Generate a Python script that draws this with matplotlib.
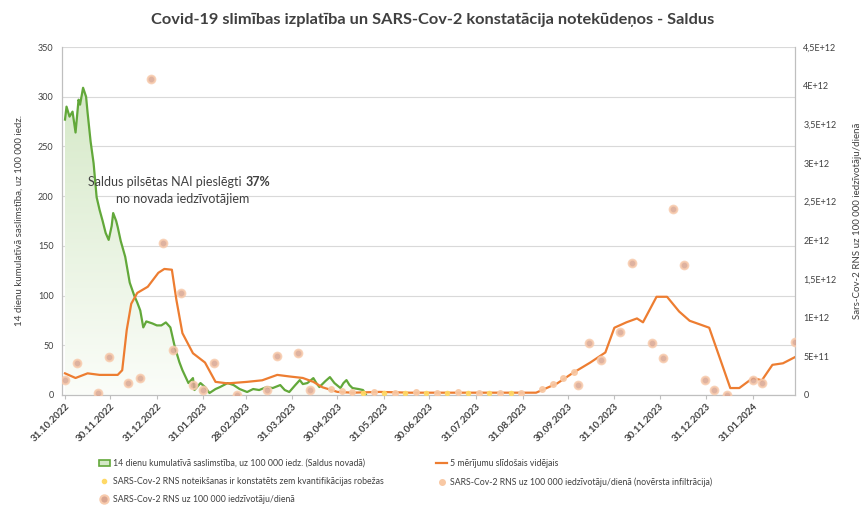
import numpy as np
import pandas as pd
import matplotlib
matplotlib.use("Agg")
import matplotlib.pyplot as plt
import matplotlib.dates as mdates
import matplotlib.ticker as mticker
from matplotlib.lines import Line2D
from matplotlib.patches import Patch, Polygon

plt.rcParams["font.family"] = ["Lato", "DejaVu Sans"]

# ── Data ────────────────────────────────────────────────────────────────────
# 14-day cumulative incidence per 100 000 (Saldus municipality)
inc_dates = pd.to_datetime([
    "2022-10-31", "2022-11-01", "2022-11-03", "2022-11-05", "2022-11-07", "2022-11-09",
    "2022-11-10", "2022-11-12", "2022-11-14", "2022-11-15", "2022-11-17", "2022-11-19",
    "2022-11-21", "2022-11-23", "2022-11-25", "2022-11-27", "2022-11-29", "2022-12-01",
    "2022-12-02", "2022-12-04", "2022-12-05", "2022-12-07", "2022-12-10", "2022-12-13",
    "2022-12-16", "2022-12-18", "2022-12-20", "2022-12-22", "2022-12-24", "2022-12-28",
    "2022-12-31", "2023-01-03", "2023-01-06", "2023-01-09", "2023-01-12", "2023-01-15",
    "2023-01-17", "2023-01-21", "2023-01-24", "2023-01-25", "2023-01-29", "2023-02-01",
    "2023-02-04", "2023-02-08", "2023-02-11", "2023-02-16", "2023-02-20", "2023-02-24",
    "2023-03-01", "2023-03-05", "2023-03-09", "2023-03-14", "2023-03-18", "2023-03-23",
    "2023-03-26", "2023-03-29", "2023-04-02", "2023-04-05", "2023-04-07", "2023-04-10",
    "2023-04-14", "2023-04-16", "2023-04-18", "2023-04-22", "2023-04-25", "2023-04-28",
    "2023-05-02", "2023-05-04", "2023-05-06", "2023-05-08", "2023-05-10", "2023-05-14",
    "2023-05-17", "2023-05-19",
])
inc_values = [
    277, 290, 280, 285, 264, 297,
    292, 309, 300, 284, 255, 233,
    199, 186, 175, 163, 156, 170,
    183, 175, 169, 155, 139, 113,
    100, 93, 85, 68, 74, 72,
    70, 70, 73, 68, 48, 33,
    25, 12, 17, 5, 12, 8,
    2, 6, 8, 12, 10, 6,
    3, 6, 5, 8, 7, 10,
    5, 3, 10, 15, 11, 12,
    17, 12, 8, 14, 18, 12,
    7, 12, 15, 10, 7, 6,
    5, 0,
]

# 5-measurement moving average of RNS per 100 000 / day (E+12)
ma_dates = pd.to_datetime([
    "2022-10-31", "2022-11-07", "2022-11-15", "2022-11-23", "2022-12-05", "2022-12-08",
    "2022-12-11", "2022-12-14", "2022-12-18", "2022-12-25", "2023-01-01", "2023-01-05",
    "2023-01-10", "2023-01-13", "2023-01-17", "2023-01-24", "2023-02-01", "2023-02-08",
    "2023-02-16", "2023-03-01", "2023-03-11", "2023-03-21", "2023-03-29", "2023-04-07",
    "2023-04-14", "2023-04-20", "2023-04-30", "2023-05-10", "2023-05-28", "2023-06-17",
    "2023-07-07", "2023-07-27", "2023-08-16", "2023-09-09", "2023-09-23", "2023-10-03",
    "2023-10-15", "2023-10-25", "2023-10-31", "2023-11-08", "2023-11-15", "2023-11-19",
    "2023-11-28", "2023-12-05", "2023-12-13", "2023-12-20", "2024-01-02", "2024-01-16",
    "2024-01-22", "2024-01-31", "2024-02-06", "2024-02-13", "2024-02-20", "2024-02-28",
])
ma_values = [
    0.28, 0.22, 0.28, 0.26, 0.26, 0.32,
    0.84, 1.18, 1.32, 1.40, 1.58, 1.63,
    1.62, 1.23, 0.80, 0.54, 0.42, 0.17,
    0.15, 0.17, 0.19, 0.26, 0.24, 0.22,
    0.17, 0.10, 0.04, 0.03, 0.04, 0.03,
    0.03, 0.03, 0.03, 0.03, 0.15, 0.28,
    0.42, 0.55, 0.87, 0.94, 0.99, 0.94,
    1.27, 1.27, 1.08, 0.96, 0.87, 0.09,
    0.09, 0.22, 0.19, 0.39, 0.41, 0.49,
]

# SARS-Cov-2 RNS per 100 000 / day (E+12)
rns_dates = pd.to_datetime([
    "2022-10-31", "2022-11-08", "2022-11-22", "2022-11-29", "2022-12-12", "2022-12-20",
    "2022-12-27", "2023-01-04", "2023-01-11", "2023-01-16", "2023-01-24", "2023-01-31",
    "2023-02-07", "2023-02-22", "2023-03-14", "2023-03-21", "2023-04-04", "2023-04-12",
    "2023-10-07", "2023-10-14", "2023-10-22", "2023-11-04", "2023-11-12", "2023-11-25",
    "2023-12-02", "2023-12-09", "2023-12-16", "2023-12-30", "2024-01-05", "2024-01-14",
    "2024-01-31", "2024-02-06", "2024-02-28",
])
rns_values = [
    0.19, 0.41, 0.03, 0.49, 0.15, 0.22,
    4.08, 1.97, 0.58, 1.32, 0.13, 0.06,
    0.42, 0.00, 0.06, 0.51, 0.54, 0.06,
    0.13, 0.67, 0.45, 0.81, 1.71, 0.67,
    0.48, 2.40, 1.68, 0.19, 0.06, 0.00,
    0.19, 0.15, 0.68,
]

# RNS normalised for infiltration (E+12)
norm_dates = pd.to_datetime([
    "2023-04-26", "2023-05-03", "2023-05-10", "2023-05-24", "2023-06-07", "2023-06-21",
    "2023-07-05", "2023-07-19", "2023-08-02", "2023-08-16", "2023-08-30", "2023-09-13",
    "2023-09-20", "2023-09-27", "2023-10-04",
])
norm_values = [
    0.08, 0.05, 0.04, 0.04, 0.03, 0.04,
    0.03, 0.04, 0.03, 0.03, 0.03, 0.08,
    0.14, 0.22, 0.30,
]

# RNS detected below the quantification limit (E+12)
loq_dates = pd.to_datetime([
    "2023-05-17", "2023-05-31", "2023-06-14", "2023-06-28", "2023-07-12",
    "2023-07-26", "2023-08-09", "2023-08-23",
])
loq_values = [0.02, 0.02, 0.02, 0.02, 0.02, 0.02, 0.02, 0.02]

x_ticks = pd.to_datetime([
    "2022-10-31", "2022-11-30", "2022-12-31", "2023-01-31", "2023-02-28", "2023-03-31",
    "2023-04-30", "2023-05-31", "2023-06-30", "2023-07-31", "2023-08-31", "2023-09-30",
    "2023-10-31", "2023-11-30", "2023-12-31", "2024-01-31",
])
right_labels = ["0", "5E+11", "1E+12", "1,5E+12", "2E+12", "2,5E+12",
                "3E+12", "3,5E+12", "4E+12", "4,5E+12"]

# ── Colours ─────────────────────────────────────────────────────────────────
green = "#62A83A"
orange = "#ED7D31"
dot_face = "#D9A590"
dot_edge = "#F8CBAD"
light_orange = "#F8C8A4"
yellow = "#FFD966"
text_col = "#404040"
grid_col = "#D9D9D9"

# ── Plot ────────────────────────────────────────────────────────────────────
fig = plt.figure(figsize=(8.65, 5.08), dpi=100)
ax = fig.add_axes([62 / 865, 113 / 508, 733 / 865, 348 / 508])
ax2 = ax.twinx()

x0 = pd.Timestamp("2022-10-29")
x1 = pd.Timestamp("2024-02-28")
ax.set_xlim(x0, x1)
ax.set_ylim(0, 350)
ax2.set_ylim(0, 4.5)

# green area with vertical gradient
xn = mdates.date2num(inc_dates)
ax.plot(inc_dates, inc_values, color=green, lw=1.6, zorder=3)
poly_xy = np.column_stack([np.r_[xn[0], xn, xn[-1]], np.r_[0, inc_values, 0]])
poly = Polygon(poly_xy, closed=True, facecolor="none", edgecolor="none",
               transform=ax.transData)
ax.add_patch(poly)
grad = np.linspace(0, 1, 256).reshape(-1, 1)
cmap = matplotlib.colors.LinearSegmentedColormap.from_list(
    "g", ["#FBFDF9", "#D4E8C6"])
img = ax.imshow(grad, extent=[xn[0], xn[-1], 0, 320], origin="lower",
                cmap=cmap, aspect="auto", zorder=2)
img.set_clip_path(poly)
ax.set_xlim(x0, x1)

ax.yaxis.set_major_locator(mticker.MultipleLocator(50))
ax.grid(axis="y", color=grid_col, lw=0.8)
ax.set_axisbelow(True)

# right axis series
ax2.plot(ma_dates, ma_values, color=orange, lw=1.6, zorder=3)
ax2.plot(loq_dates, loq_values, "o", ms=3, color=yellow, alpha=0.9, zorder=4)
ax2.plot(norm_dates, norm_values, "o", ms=4, color=light_orange, alpha=0.9, zorder=4)
ax2.plot(rns_dates, rns_values, "o", ms=5.5, mfc=dot_face, mec=dot_edge, mew=1.5,
         alpha=0.85, zorder=5)
ax2.set_yticks(np.arange(0, 4.51, 0.5))
ax2.set_yticklabels(right_labels)

# axes styling
ax.set_xticks(x_ticks)
ax.set_xticklabels([d.strftime("%d.%m.%Y") for d in x_ticks], rotation=45,
                   ha="right", rotation_mode="anchor", fontsize=7,
                   color=text_col, fontweight="bold")
for a in (ax, ax2):
    for s in a.spines.values():
        s.set_color("#BFBFBF")
    a.spines["top"].set_visible(False)
    a.tick_params(axis="y", length=0, labelsize=6.5, labelcolor=text_col, pad=6)
ax.tick_params(axis="x", length=3, color="#BFBFBF", pad=2)

ax.set_ylabel("14 dienu kumulatīvā saslimstība, uz 100 000 iedz.", fontsize=7,
              color=text_col, labelpad=10)
ax2.set_ylabel("Sars-Cov-2 RNS uz 100 000 iedzīvotāju/dienā", fontsize=7,
               color=text_col, rotation=90, labelpad=12)

fig.suptitle("Covid-19 slimības izplatība un SARS-Cov-2 konstatācija notekūdeņos - Saldus",
             x=0.5, y=0.975, fontsize=11.8, fontweight="bold", color=text_col)

# annotation
t1 = ax.text(0.036, 0.612, "Saldus pilsētas NAI pieslēgti ", transform=ax.transAxes,
             ha="left", va="center", fontsize=9, color=text_col, zorder=6)
ax.annotate("37%", xy=(1, 0), xycoords=t1, va="bottom", ha="left",
            fontsize=9, fontweight="bold", color=text_col, zorder=6)
ax.text(0.164, 0.563, "no novada iedzīvotājiem", transform=ax.transAxes,
        ha="center", va="center", fontsize=9, color=text_col, zorder=6)

# legend
handles = [
    Patch(facecolor="#D4E8C6", edgecolor=green, lw=1.2,
          label="14 dienu kumulatīvā saslimstība, uz 100 000 iedz. (Saldus novadā)"),
    Line2D([], [], ls="none", marker="o", ms=3, color=yellow,
           label="SARS-Cov-2 RNS noteikšanas ir konstatēts zem kvantifikācijas robežas"),
    Line2D([], [], ls="none", marker="o", ms=6, mfc=dot_face, mec=dot_edge, mew=1.5,
           label="SARS-Cov-2 RNS uz 100 000 iedzīvotāju/dienā"),
    Line2D([], [], color=orange, lw=1.6, label="5 mērījumu slīdošais vidējais"),
    Line2D([], [], ls="none", marker="o", ms=4, color=light_orange,
           label="SARS-Cov-2 RNS uz 100 000 iedzīvotāju/dienā (novērsta infiltrācija)"),
]
fig.legend(handles=handles, loc="upper left", bbox_to_anchor=(0.105, 0.112),
           ncol=2, frameon=False, fontsize=6.3, handlelength=1.3,
           handletextpad=0.3, columnspacing=6, labelspacing=1.05,
           labelcolor=text_col)

fig.savefig("out.png", dpi=100)
